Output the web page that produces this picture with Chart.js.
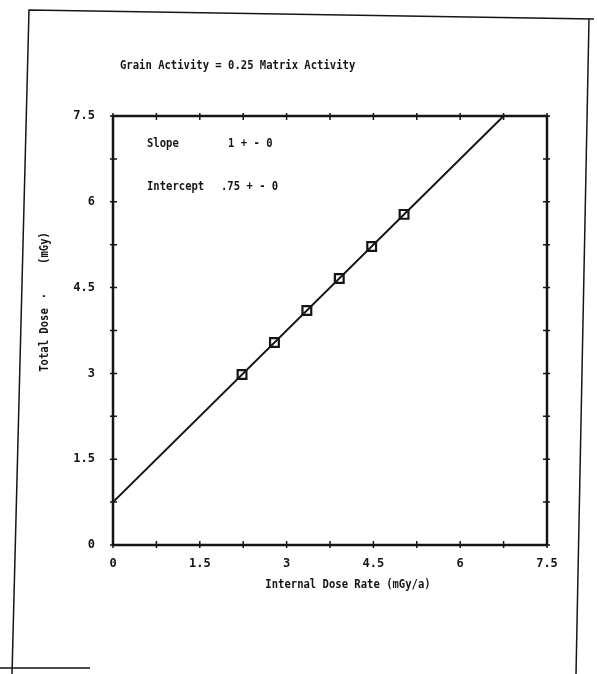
<!DOCTYPE html>
<html>
<head>
<meta charset="utf-8">
<script src="https://cdn.jsdelivr.net/npm/chart.js@4/dist/chart.umd.min.js"></script>
<style>
  html, body { margin: 0; padding: 0; background: #fff; }
  canvas { display: block; }
</style>
</head>
<body>
<canvas id="grafico" width="597" height="674"></canvas>
<script>
// ─── Dados ────────────────────────────────────────────────────────────────────
const doseRate  = [2.23, 2.79, 3.35, 3.91, 4.47, 5.03];   // mGy/a
const totalDose = [2.98, 3.54, 4.10, 4.66, 5.22, 5.78];   // mGy
const fitX      = [0, 6.75];
const fitY      = [0.75, 7.5];
const tickVals  = [0, 0.75, 1.5, 2.25, 3, 3.75, 4.5, 5.25, 6, 6.75, 7.5];
const tickLabels = { 0: '0', 1.5: '1.5', 3: '3', 4.5: '4.5', 6: '6', 7.5: '7.5' };

const titulo   = 'Grain Activity = 0.25 Matrix Activity';
const eixoX    = 'Internal Dose Rate (mGy/a)';
const eixoY1   = 'Total Dose';
const eixoY2   = '(mGy)';
const anotacoes = [
  ['Slope', '1 + - 0'],
  ['Intercept', '.75 + - 0'],
];

const FONTE = 'bold 11px "DejaVu Sans Mono", "Liberation Mono", monospace';
const TINTA = '#151515';

// texto de impressora: um pouco mais estreito e mais alto
function texto(ctx, str, x, y) {
  ctx.save();
  ctx.translate(x, y);
  ctx.scale(0.96, 1.15);
  ctx.fillText(str, 0, 0);
  ctx.restore();
}

// ─── Moldura, ticks em cruz e textos ──────────────────────────────────────────
const decoracao = {
  id: 'decoracao',
  afterDraw(chart) {
    const { ctx, chartArea: a, scales: { x, y } } = chart;
    ctx.save();
    ctx.strokeStyle = TINTA;
    ctx.fillStyle = TINTA;

    // folha digitalizada
    ctx.lineWidth = 1.5;
    ctx.beginPath();
    ctx.moveTo(12, 674); ctx.lineTo(29, 10); ctx.lineTo(594, 19);
    ctx.moveTo(589, 19); ctx.lineTo(576, 674);
    ctx.moveTo(0, 668);  ctx.lineTo(90, 668);
    ctx.stroke();

    // caixa do gráfico
    ctx.lineWidth = 2.5;
    ctx.strokeRect(a.left, a.top, a.right - a.left, a.bottom - a.top);

    // ticks atravessando as quatro bordas
    ctx.lineWidth = 1.5;
    ctx.beginPath();
    tickVals.forEach(v => {
      const px = x.getPixelForValue(v);
      const py = y.getPixelForValue(v);
      ctx.moveTo(px, a.bottom - 4); ctx.lineTo(px, a.bottom + 3);
      ctx.moveTo(px, a.top - 3);    ctx.lineTo(px, a.top + 4);
      ctx.moveTo(a.left - 3, py);   ctx.lineTo(a.left + 4, py);
      ctx.moveTo(a.right - 4, py);  ctx.lineTo(a.right + 3, py);
    });
    ctx.stroke();

    ctx.font = FONTE;
    ctx.textBaseline = 'middle';
    ctx.textAlign = 'left';
    texto(ctx, titulo, a.left + 7, a.top - 50);

    anotacoes.forEach(([nome, valor], i) => {
      const ty = a.top + 28 + i * 43;
      texto(ctx, nome, a.left + 34, ty);
      texto(ctx, valor, a.left + (i === 0 ? 115 : 108), ty);
    });

    ctx.textAlign = 'center';
    texto(ctx, eixoX, (a.left + a.right) / 2 + 18, a.bottom + 40);

    ctx.translate(45, 0);
    ctx.rotate(-Math.PI / 2);
    texto(ctx, eixoY1, -340, 0);
    texto(ctx, '.', -296, -3);
    texto(ctx, eixoY2, -248, 0);
    ctx.restore();
  },
};

// ─── Gráfico ──────────────────────────────────────────────────────────────────
const ctx = document.getElementById('grafico').getContext('2d');
new Chart(ctx, {
  type: 'scatter',
  data: {
    datasets: [
      {
        label: 'Ajuste',
        type: 'line',
        data: fitX.map((v, i) => ({ x: v, y: fitY[i] })),
        borderColor: TINTA,
        borderWidth: 2,
        pointRadius: 0,
        fill: false,
      },
      {
        label: 'Medidas',
        data: doseRate.map((v, i) => ({ x: v, y: totalDose[i] })),
        pointStyle: 'rect',
        pointRadius: 6.2,
        pointBorderWidth: 2.2,
        pointBorderColor: TINTA,
        pointBackgroundColor: '#fff',
      },
      {
        label: 'Centro',
        data: doseRate.map((v, i) => ({ x: v, y: totalDose[i] })),
        pointStyle: 'crossRot',
        pointRadius: 2,
        pointBorderWidth: 1.2,
        pointBorderColor: TINTA,
      },
    ],
  },
  options: {
    responsive: false,
    animation: false,
    layout: { padding: { left: 53, right: 50, top: 116, bottom: 89 } },
    plugins: { legend: { display: false }, tooltip: { enabled: false } },
    scales: {
      x: {
        type: 'linear', min: 0, max: 7.5,
        afterBuildTicks: s => { s.ticks = tickVals.map(v => ({ value: v })); },
        afterFit: s => { s.height = 40; },
        grid: { display: false, drawTicks: false },
        border: { display: false },
        ticks: {
          padding: 12, color: TINTA, font: { family: '"DejaVu Sans Mono", monospace', size: 12, weight: 'bold' },
          maxRotation: 0, autoSkip: false,
          callback: v => tickLabels[v] ?? '',
        },
      },
      y: {
        type: 'linear', min: 0, max: 7.5,
        afterBuildTicks: s => { s.ticks = tickVals.map(v => ({ value: v })); },
        afterFit: s => { s.width = 60; },
        grid: { display: false, drawTicks: false },
        border: { display: false },
        ticks: {
          padding: 18, color: TINTA, font: { family: '"DejaVu Sans Mono", monospace', size: 12, weight: 'bold' },
          autoSkip: false,
          callback: v => tickLabels[v] ?? '',
        },
      },
    },
  },
  plugins: [decoracao],
});
</script>
</body>
</html>
